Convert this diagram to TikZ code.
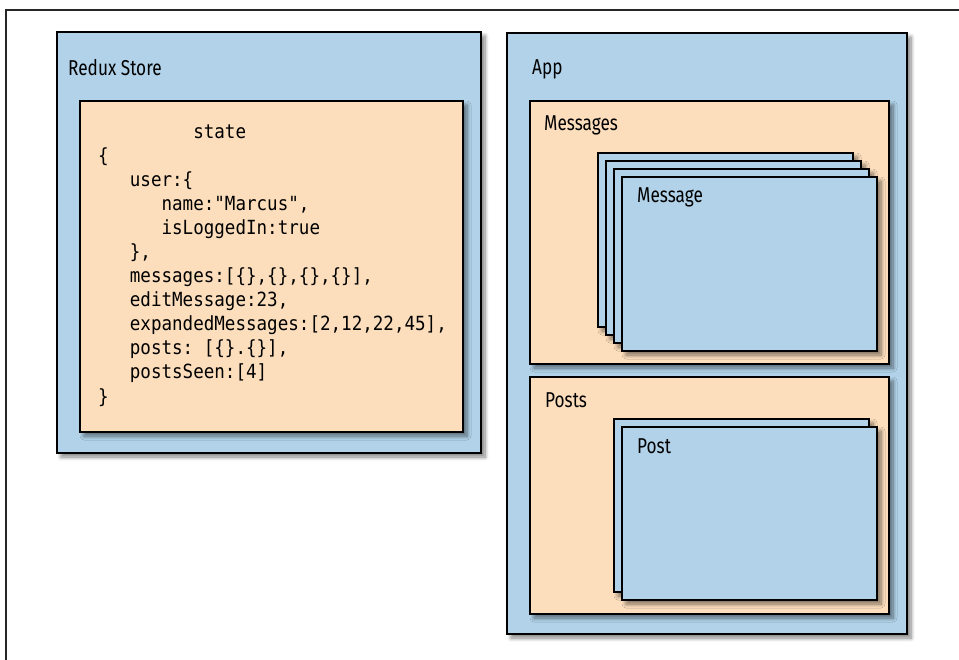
\documentclass[tikz,border=0pt]{standalone}
\usepackage{fontspec}
\newfontfamily\lblfont[FakeStretch=0.8]{Fira Sans}
\newfontfamily\codefont[FakeStretch=0.9]{DejaVu Sans Mono}
\usetikzlibrary{shadows.blur}
\definecolor{boxblue}{RGB}{177,210,232}
\definecolor{peach}{RGB}{252,222,188}
\tikzset{
  shadowed/.style={blur shadow={shadow xshift=4pt, shadow yshift=-4pt, shadow blur radius=4pt, shadow blur steps=8, shadow opacity=50}},
  bluebox/.style={draw=black, line width=2.4pt, fill=boxblue, shadowed},
  peachbox/.style={draw=black, line width=2.4pt, fill=peach, shadowed},
  lbl/.style={anchor=base west, inner sep=0pt, font=\lblfont\fontsize{21.5}{24}\selectfont},
  code/.style={anchor=base west, inner sep=0pt, font=\codefont\fontsize{19.5}{24}\selectfont},
}
\newcommand{\ind}[1]{\hphantom{#1}}
\begin{document}
\begin{tikzpicture}[x=1pt,y=-1pt]
\useasboundingbox (0,0) rectangle (959,660);
\draw[line width=1.2pt, color=black!85] (6,660) -- (6,10) -- (959,10);
% Redux store
\path[bluebox] (57,32) rectangle (481,453);
\node[lbl] (store) at (68,76) {Redux Store};
\path[peachbox] (80,101) rectangle (463,432);
\node[code] (s0) at (98,139) {\ind{xxxxxxxxx}state};
\node[code] (s1) at (98,163) {\{};
\node[code] (s2) at (98,187) {\ind{xxx}user:\{};
\node[code] (s3) at (98,211) {\ind{xxxxxx}name:"Marcus",};
\node[code] (s4) at (98,235) {\ind{xxxxxx}isLoggedIn:true};
\node[code] (s5) at (98,259) {\ind{xxx}\},};
\node[code] (s6) at (98,283) {\ind{xxx}messages:[\{\},\{\},\{\},\{\}],};
\node[code] (s7) at (98,307) {\ind{xxx}editMessage:23,};
\node[code] (s8) at (98,331) {\ind{xxx}expandedMessages:[2,12,22,45],};
\node[code] (s9) at (98,355) {\ind{xxx}posts:\ind{x}[\{\}.\{\}],};
\node[code] (s10) at (98,379) {\ind{xxx}postsSeen:[4]};
\node[code] (s11) at (98,403) {\}};
% App
\path[bluebox] (507,33) rectangle (907,634);
\node[lbl] (app) at (532,75) {App};
\path[peachbox] (530,101) rectangle (889,364);
\node[lbl] (messages) at (544,131) {Messages};
\path[bluebox] (598,153) rectangle (853,327);
\path[bluebox] (606,161) rectangle (861,335);
\path[bluebox] (614,169) rectangle (869,343);
\path[bluebox] (622,177) rectangle (877,351);
\node[lbl] (message) at (637,203) {Message};
\path[peachbox] (530,377) rectangle (889,614);
\node[lbl] (posts) at (545,407) {Posts};
\path[bluebox] (614,419) rectangle (869,592);
\path[bluebox] (622,427) rectangle (877,600);
\node[lbl] (post) at (637,453) {Post};
\end{tikzpicture}
\end{document}
